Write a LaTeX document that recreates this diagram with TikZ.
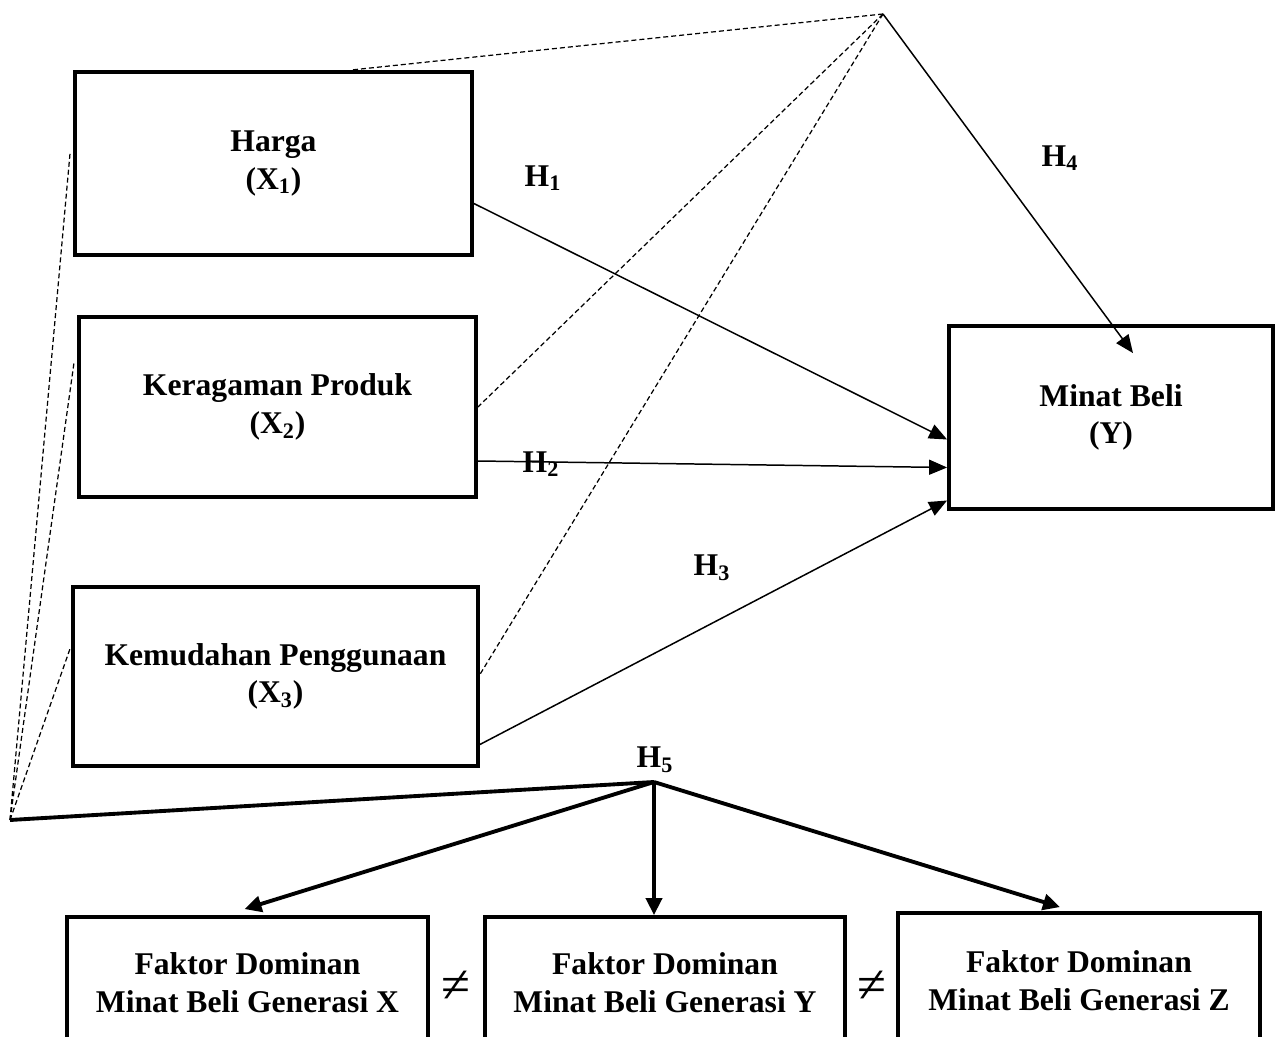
\documentclass[tikz,border=0pt]{standalone}
\usepackage{fontspec}
\setmainfont{Liberation Serif}
\usetikzlibrary{arrows.meta,calc}

\tikzset{
  varbox/.style={draw, line width=2.2pt, align=center, font=\fontsize{18}{21.5}\selectfont\bfseries},
  hlabel/.style={font=\fontsize{18}{22}\selectfont\bfseries},
  dashline/.style={dash pattern=on 0.1cm off 0.06cm, line width=0.7pt},
  thinarrow/.style={-{Triangle[length=0.36cm,width=0.3cm]}, line width=0.85pt},
  thickarrow/.style={-{Triangle[length=0.34cm,width=0.32cm]}, line width=2.2pt},
}

\begin{document}
\begin{tikzpicture}[x=0.02cm,y=-0.02cm]
  \useasboundingbox (0,0) rectangle (1278,1037);
  \clip (0,0) rectangle (1278,1037);

  %Draw variable boxes
  \node[varbox, minimum width=7.94cm, minimum height=3.66cm] (harga) at (273.5,163.5) {Harga\\(X\textsubscript{1})};
  \node[varbox, minimum width=7.94cm, minimum height=3.6cm]  (kera)  at (277.5,407)   {Keragaman Produk\\(X\textsubscript{2})};
  \node[varbox, minimum width=8.1cm,  minimum height=3.58cm] (kemu)  at (275.5,676.5) {Kemudahan Penggunaan\\(X\textsubscript{3})};
  \node[varbox, minimum width=6.48cm, minimum height=3.66cm] (minat) at (1111,417.5)  {Minat Beli\\(Y)};

  %Draw generation boxes (cut off at bottom)
  \node[varbox, minimum width=7.22cm, minimum height=2.64cm] (genx) at (247.5,983) {Faktor Dominan\\Minat Beli Generasi X};
  \node[varbox, minimum width=7.2cm,  minimum height=2.64cm] (geny) at (665,983)   {Faktor Dominan\\Minat Beli Generasi Y};
  \node[varbox, minimum width=7.24cm, minimum height=2.72cm] (genz) at (1079,981)  {Faktor Dominan\\Minat Beli Generasi Z};

  %Draw not-equal signs
  \node[font=\fontsize{30}{32}\selectfont] (ne1) at (456,987) {≠};
  \node[font=\fontsize{30}{32}\selectfont] (ne2) at (872,987) {≠};

  %Meeting points of the lines
  \coordinate (apex) at (883,14);
  \coordinate (left) at (10,820);
  \coordinate (h5)   at (654,782);
  \coordinate (h4end) at ($(minat.north)+(22,29)$);

  %Draw dashed lines to apex
  \draw[dashline] (apex) -- ($(harga.north)+(77,0)$);
  \draw[dashline] (apex) -- (kera.east);
  \draw[dashline] (apex) -- ($(kemu.east)+(0,-2)$);

  %Draw dashed lines to left point
  \draw[dashline] (left) -- ($(harga.west)+(-3,-11)$);
  \draw[dashline] (left) -- ($(kera.west)+(-3,-45)$);
  \draw[dashline] (left) -- ($(kemu.west)+(-1,-28)$);

  %Draw hypothesis arrows
  \draw[thinarrow] ($(harga.east)+(0,40)$) -- ($(minat.west)+(0,22)$);
  \draw[thinarrow] ($(kera.east)+(0,54)$)  -- ($(minat.west)+(0,50)$);
  \draw[thinarrow] ($(kemu.east)+(0,68)$)  -- ($(minat.west)+(0,83)$);
  \draw[thinarrow] (apex) -- (h4end);

  %Draw H5 lines
  \draw[line width=2.2pt] (left) -- (h5);
  \draw[thickarrow] (h5) -- ($(genx.north)+(-3,-6)$);
  \draw[thickarrow] (h5) -- (h5 |- geny.north);
  \draw[thickarrow] (h5) -- ($(genz.north)+(-19,-4)$);

  %Hypothesis labels
  \node[hlabel] (h1lab) at (543,178) {H\textsubscript{1}};
  \node[hlabel] (h2lab) at (541,464) {H\textsubscript{2}};
  \node[hlabel] (h3lab) at (712,568) {H\textsubscript{3}};
  \node[hlabel] (h4lab) at (1060,158) {H\textsubscript{4}};
  \node[hlabel] (h5lab) at (655,760) {H\textsubscript{5}};
\end{tikzpicture}
\end{document}
